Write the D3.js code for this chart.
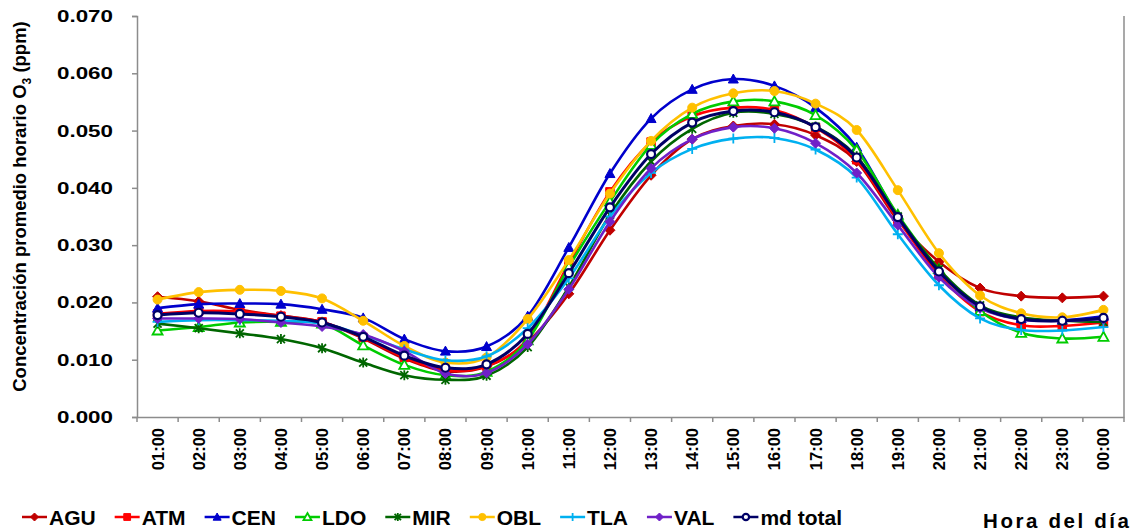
<!DOCTYPE html>
<html>
<head>
<meta charset="utf-8">
<script src="https://cdn.jsdelivr.net/npm/d3@7"></script>
<style>
  html, body { margin: 0; padding: 0; background: #fff; }
  svg { display: block; }
  text { font-family: "Liberation Sans", Arial, sans-serif; font-weight: bold; fill: #000; }
</style>
</head>
<body>
<svg id="chart" width="1135" height="531"></svg>
<script>
// Hourly average O3 concentration (ppm) per monitoring station
const hours = ["01:00","02:00","03:00","04:00","05:00","06:00","07:00","08:00","09:00","10:00","11:00","12:00",
               "13:00","14:00","15:00","16:00","17:00","18:00","19:00","20:00","21:00","22:00","23:00","00:00"];
const yTicks = [0, 0.01, 0.02, 0.03, 0.04, 0.05, 0.06, 0.07];

const AGU = [0.0210,0.0202,0.0187,0.0177,0.0166,0.0137,0.0102,0.0080,0.0088,0.0131,0.0215,0.0326,0.0422,0.0485,0.0508,0.0511,0.0492,0.0446,0.0343,0.0271,0.0225,0.0211,0.0208,0.0211];
const ATM = [0.0180,0.0185,0.0184,0.0176,0.0166,0.0139,0.0104,0.0082,0.0089,0.0137,0.0268,0.0393,0.0480,0.0525,0.0540,0.0536,0.0505,0.0449,0.0345,0.0248,0.0184,0.0160,0.0159,0.0165];
const CEN = [0.0190,0.0197,0.0198,0.0197,0.0188,0.0173,0.0136,0.0115,0.0123,0.0176,0.0296,0.0425,0.0521,0.0572,0.0590,0.0578,0.0540,0.0471,0.0350,0.0256,0.0192,0.0172,0.0169,0.0176];
const LDO = [0.0151,0.0157,0.0165,0.0166,0.0163,0.0125,0.0091,0.0073,0.0079,0.0134,0.0262,0.0376,0.0475,0.0529,0.0551,0.0551,0.0527,0.0466,0.0353,0.0258,0.0185,0.0147,0.0137,0.0140];
const MIR = [0.0163,0.0155,0.0146,0.0136,0.0120,0.0095,0.0073,0.0065,0.0072,0.0122,0.0227,0.0353,0.0446,0.0503,0.0531,0.0529,0.0507,0.0455,0.0350,0.0258,0.0195,0.0174,0.0168,0.0166];
const OBL = [0.0205,0.0218,0.0222,0.0220,0.0207,0.0168,0.0124,0.0095,0.0104,0.0171,0.0274,0.0390,0.0482,0.0540,0.0565,0.0569,0.0547,0.0501,0.0396,0.0286,0.0212,0.0181,0.0174,0.0187];
const TLA = [0.0166,0.0169,0.0169,0.0168,0.0163,0.0143,0.0118,0.0099,0.0106,0.0155,0.0242,0.0350,0.0426,0.0468,0.0486,0.0487,0.0467,0.0418,0.0319,0.0230,0.0172,0.0152,0.0151,0.0157];
const VAL = [0.0172,0.0172,0.0171,0.0165,0.0158,0.0144,0.0115,0.0076,0.0077,0.0127,0.0223,0.0341,0.0434,0.0485,0.0506,0.0504,0.0478,0.0426,0.0335,0.0244,0.0190,0.0170,0.0168,0.0171];
const MD_TOTAL = [0.0178,0.0182,0.0180,0.0175,0.0165,0.0140,0.0107,0.0086,0.0092,0.0145,0.0251,0.0366,0.0459,0.0514,0.0534,0.0532,0.0506,0.0453,0.0349,0.0254,0.0193,0.0171,0.0168,0.0173];

const series = [
  { name: "AGU",      values: AGU,      color: "#C00000", marker: "diamond",  fill: true,  width: 2.6 },
  { name: "ATM",      values: ATM,      color: "#FF0000", marker: "square",   fill: true,  width: 2.6 },
  { name: "CEN",      values: CEN,      color: "#0000CC", marker: "triangle", fill: true,  width: 2.6 },
  { name: "LDO",      values: LDO,      color: "#00CC00", marker: "triangle", fill: false, width: 2.6 },
  { name: "MIR",      values: MIR,      color: "#006600", marker: "star",     fill: false, width: 2.6 },
  { name: "OBL",      values: OBL,      color: "#FFC000", marker: "circle",   fill: true,  width: 2.6 },
  { name: "TLA",      values: TLA,      color: "#00B0F0", marker: "plus",     fill: false, width: 2.6 },
  { name: "VAL",      values: VAL,      color: "#7020C8", marker: "diamond",  fill: true,  width: 2.6 },
  { name: "md total", values: MD_TOTAL, color: "#000066", marker: "ring",     fill: false, width: 3 }
];

const svg = d3.select("#chart");
const plot = { left: 137, right: 1124, top: 16, bottom: 417 };

const x = d3.scaleBand().domain(hours).range([plot.left, plot.right]);
const y = d3.scaleLinear().domain([0, 0.07]).range([plot.bottom, plot.top]);

// Axes
const axisColor = "#8c8c8c";
const yAxis = svg.append("g")
  .attr("transform", `translate(${plot.left},0)`)
  .call(d3.axisLeft(y).tickValues(yTicks).tickFormat(d3.format(".3f")).tickSize(5).tickPadding(19));
yAxis.select(".domain").attr("stroke", axisColor).attr("stroke-width", 1.5);
yAxis.selectAll(".tick line").attr("stroke", axisColor).attr("stroke-width", 1.5);
yAxis.selectAll(".tick text").attr("font-size", 17).attr("font-family", "Liberation Sans, Arial, sans-serif")
  .attr("font-weight", "bold").attr("fill", "#000")
  .attr("textLength", 56).attr("lengthAdjust", "spacingAndGlyphs");

const xAxis = svg.append("g")
  .attr("transform", `translate(0,${plot.bottom})`)
  .call(d3.axisBottom(x).tickSize(0).tickPadding(0));
xAxis.select(".domain").attr("stroke", axisColor).attr("stroke-width", 1.5);
xAxis.selectAll(".tick text")
  .attr("font-size", 16.5).attr("font-family", "Liberation Sans, Arial, sans-serif")
  .attr("font-weight", "bold").attr("fill", "#000")
  .attr("text-anchor", "end")
  .attr("transform", "translate(0,11) rotate(-90)")
  .attr("dx", 0).attr("dy", "0.36em");

// Category boundary ticks below the x axis
const boundaries = hours.map(h => x(h)).concat([plot.right]);
svg.append("g").selectAll("line").data(boundaries).join("line")
  .attr("x1", d => d).attr("x2", d => d)
  .attr("y1", plot.bottom).attr("y2", plot.bottom + 5)
  .attr("stroke", axisColor).attr("stroke-width", 1.5);

// Right edge of the plot area
svg.append("line")
  .attr("x1", plot.right).attr("x2", plot.right)
  .attr("y1", plot.top).attr("y2", plot.bottom)
  .attr("stroke", axisColor).attr("stroke-width", 1.5);

// Marker drawing
function markerPath(type, s) {
  const h = s / 2;
  switch (type) {
    case "diamond": return `M0,${-h}L${h},0L0,${h}L${-h},0Z`;
    case "square": return `M${-h*0.85},${-h*0.85}H${h*0.85}V${h*0.85}H${-h*0.85}Z`;
    case "triangle": return `M0,${-h}L${h},${h*0.8}L${-h},${h*0.8}Z`;
    case "plus": return `M${-h},0H${h}M0,${-h}V${h}`;
    case "star": return `M${-h*0.8},${-h*0.8}L${h*0.8},${h*0.8}M${h*0.8},${-h*0.8}L${-h*0.8},${h*0.8}M0,${-h}V${h}`;
    default: return null;
  }
}
function drawMarker(g, s, cx, cy, size) {
  if (s.marker === "circle" || s.marker === "ring") {
    g.append("circle").attr("cx", cx).attr("cy", cy).attr("r", s.marker === "ring" ? size * 0.4 : size * 0.45)
      .attr("fill", s.marker === "ring" ? "#fff" : s.color)
      .attr("stroke", s.color).attr("stroke-width", s.marker === "ring" ? 2.2 : 1);
    return;
  }
  const p = g.append("path").attr("d", markerPath(s.marker, size))
    .attr("transform", `translate(${cx},${cy})`)
    .attr("stroke", s.color);
  if (s.marker === "plus" || s.marker === "star") {
    p.attr("fill", "none").attr("stroke-width", 1.8);
  } else if (s.fill) {
    p.attr("fill", s.color).attr("stroke-width", 1);
  } else {
    p.attr("fill", "#fff").attr("stroke-width", 1.8);
  }
}

const line = d3.line()
  .x((d, i) => x(hours[i]) + x.bandwidth() / 2)
  .y(d => y(d))
  .curve(d3.curveCatmullRom.alpha(0));

const seriesG = svg.append("g");
series.forEach(s => {
  const g = seriesG.append("g");
  g.append("path").datum(s.values)
    .attr("d", line)
    .attr("fill", "none")
    .attr("stroke", s.color)
    .attr("stroke-width", s.width)
    .attr("stroke-linejoin", "round");
  s.values.forEach((v, i) => drawMarker(g, s, x(hours[i]) + x.bandwidth() / 2, y(v), 10));
});

// Y axis title
svg.append("text")
  .attr("transform", `translate(26,${(plot.top + plot.bottom) / 2 - 10}) rotate(-90)`)
  .attr("text-anchor", "middle")
  .attr("font-size", 18.5)
  .call(t => {
    t.append("tspan").text("Concentración promedio horario O");
    t.append("tspan").attr("font-size", 12).attr("dy", 5).text("3");
    t.append("tspan").attr("dy", -5).text(" (ppm)");
  });

// Legend
const legend = svg.append("g").attr("transform", "translate(22,517)");
let lx = 0;
series.forEach(s => {
  const item = legend.append("g").attr("transform", `translate(${lx},0)`);
  item.append("line").attr("x1", 0).attr("x2", 25).attr("y1", 0).attr("y2", 0)
    .attr("stroke", s.color).attr("stroke-width", 2.5);
  drawMarker(item, s, 12.5, 0, 8);
  const t = item.append("text").attr("x", 27).attr("y", 0).attr("dy", "0.36em")
    .attr("font-size", 21).text(s.name);
  lx += 27 + t.node().getComputedTextLength() + 19;
});

// X axis title
svg.append("text")
  .attr("x", 983).attr("y", 521)
  .attr("dy", "0.36em")
  .attr("font-size", 20.5)
  .attr("textLength", 146)
  .attr("lengthAdjust", "spacing")
  .text("Hora del día");
</script>
</body>
</html>
